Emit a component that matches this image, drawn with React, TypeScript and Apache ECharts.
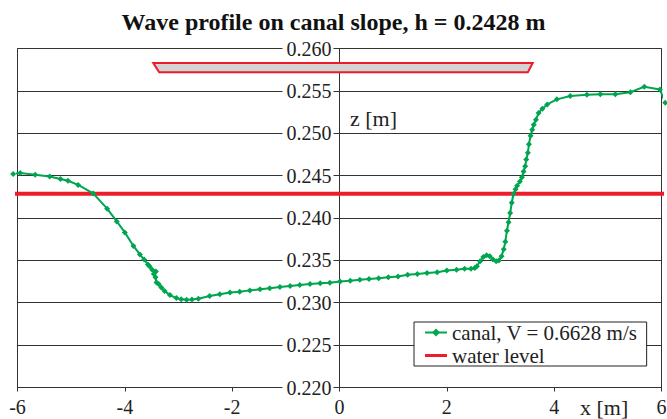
import React, { useEffect, useRef } from "react";
import * as echarts from "echarts";

const canalX = [
  -6.08, -5.95, -5.67, -5.40, -5.20, -5.06, -4.87, -4.59, -4.33, -4.15, -4.00, -3.84, -3.72, -3.64, -3.57,
  -3.54, -3.49, -3.42, -3.46, -3.43, -3.41, -3.37, -3.32, -3.26, -3.16, -3.04, -2.95, -2.85, -2.75, -2.63,
  -2.42, -2.23, -2.04, -1.86, -1.67, -1.48, -1.30, -1.11, -0.92, -0.74, -0.55, -0.36, -0.18, 0.01,
  0.20, 0.38, 0.55, 0.73, 0.91, 1.09, 1.27, 1.45, 1.63, 1.82, 2.00, 2.18, 2.33, 2.45, 2.52,
  2.56, 2.62, 2.68, 2.74, 2.80, 2.86, 2.92, 2.97, 3.02, 3.06, 3.09, 3.12, 3.15, 3.18, 3.21, 3.24,
  3.28, 3.31, 3.36, 3.40, 3.43, 3.46, 3.48, 3.51, 3.53, 3.56, 3.59, 3.62, 3.66, 3.71, 3.78, 3.87,
  4.05, 4.30, 4.61, 4.86, 5.14, 5.42, 5.68, 5.97, 6.07,
];
const canalZ = [
  0.2452, 0.2453, 0.2451, 0.2449, 0.2446, 0.2444, 0.2439, 0.2429, 0.2411, 0.2396, 0.2383, 0.2367, 0.2357, 0.2351, 0.2345,
  0.2343, 0.2339, 0.2337, 0.2334, 0.2330, 0.2324, 0.2322, 0.2318, 0.2314, 0.2309, 0.23055, 0.2304, 0.23035, 0.23038, 0.23048,
  0.23079, 0.2310, 0.2312, 0.2313, 0.23146, 0.2316, 0.2317, 0.23185, 0.23197, 0.2321, 0.2322, 0.2323, 0.23237, 0.2325,
  0.2326, 0.2327, 0.2328, 0.2329, 0.2330, 0.2331, 0.2333, 0.2334, 0.2335, 0.2336, 0.2338, 0.2339, 0.2340, 0.2340, 0.2341,
  0.2343, 0.2349, 0.2354, 0.2356, 0.2355, 0.2351, 0.2349, 0.2350, 0.2355, 0.2363, 0.2372, 0.2385, 0.2395, 0.2406, 0.2418, 0.2428,
  0.2434, 0.2438, 0.2443, 0.2448, 0.2455, 0.2461, 0.2469, 0.2477, 0.2487, 0.2497, 0.2504, 0.2510, 0.2516, 0.2524, 0.2529, 0.2534,
  0.2540, 0.2544, 0.25454, 0.2546, 0.2546, 0.25485, 0.25548, 0.25517, 0.2536,
];
const waterX = [-6.1, 6.1];
const waterZ = [0.24285, 0.24285];
const vesselTopX = [-3.47, 3.6];
const vesselBottomX = [-3.36, 3.51];
const vesselY = [0.2583, 0.2572];
const xTicks = { min: -6, max: 6, interval: 2 };
const yTicks = { min: 0.22, max: 0.26, interval: 0.005 };

const FONT = "Liberation Serif";
const GREEN = "#00a550";
const RED = "#ee1c2a";
const AXIS = "#333";

const GRID_LEFT = 17.5;
const GRID_RIGHT = 5.5;
const CHART_W = 667;

export default function App() {
  const ref = useRef<HTMLDivElement>(null);
  useEffect(() => {
    if (!ref.current) return;
    const chart = echarts.init(ref.current, undefined, { renderer: "svg" });
    const canalData = canalX.map((x, i) => [x, canalZ[i]]);
    const waterData = waterX.map((x, i) => [x, waterZ[i]]);
    const plotW = CHART_W - GRID_LEFT - GRID_RIGHT;
    const yAxisOffset = -((0 - xTicks.min) / (xTicks.max - xTicks.min)) * plotW;
    chart.setOption({
      animation: false,
      backgroundColor: "#fff",
      textStyle: { fontFamily: FONT },
      title: {
        text: "Wave profile on canal slope, h = 0.2428 m",
        left: "center",
        top: 5,
        textStyle: { fontFamily: FONT, fontSize: 24, fontWeight: "bold", color: "#111" },
      },
      grid: {
        left: GRID_LEFT,
        right: GRID_RIGHT,
        top: 48.5,
        bottom: 31.5,
        containLabel: false,
        outerBoundsMode: "none",
        show: true,
        borderColor: AXIS,
        borderWidth: 1,
        backgroundColor: "transparent",
      },
      legend: {
        orient: "vertical",
        left: 414,
        top: 322,
        data: [
          { name: "canal, V = 0.6628 m/s" },
          { name: "water level", icon: "path://M0 0H22V3H0Z" },
        ],
        padding: [0, 9, 0, 10],
        itemGap: 2,
        itemWidth: 22,
        itemHeight: 10,
        borderColor: "#222",
        borderWidth: 1,
        backgroundColor: "#fff",
        borderRadius: 0,
        textStyle: { fontFamily: FONT, fontSize: 21, color: "#222", lineHeight: 21 },
      },
      xAxis: {
        type: "value",
        min: xTicks.min,
        max: xTicks.max,
        interval: xTicks.interval,
        axisLine: { show: true, onZero: false, lineStyle: { color: AXIS, width: 1 } },
        axisTick: { show: true, length: 4, lineStyle: { color: AXIS } },
        axisLabel: { fontFamily: FONT, fontSize: 20, color: "#222", margin: 9 },
        splitLine: { show: false },
      },
      yAxis: {
        type: "value",
        min: yTicks.min,
        max: yTicks.max,
        interval: yTicks.interval,
        offset: yAxisOffset,
        axisLine: { show: true, onZero: false, lineStyle: { color: AXIS, width: 1 } },
        axisTick: { show: true, length: 6, lineStyle: { color: AXIS } },
        axisLabel: {
          fontFamily: FONT,
          fontSize: 20,
          color: "#222",
          margin: 6,
          backgroundColor: "#fff",
          padding: [0, 2, 0, 4],
          formatter: (v: number) => v.toFixed(3),
        },
        splitLine: { show: true, lineStyle: { color: AXIS, width: 1 } },
      },
      series: [
        {
          type: "custom",
          name: "vessel",
          coordinateSystem: "cartesian2d",
          clip: false,
          silent: true,
          data: [[0, vesselY[0]]],
          renderItem: (_params: any, api: any) => {
            const p1 = api.coord([vesselTopX[0], vesselY[0]]);
            const p2 = api.coord([vesselTopX[1], vesselY[0]]);
            const p3 = api.coord([vesselBottomX[1], vesselY[1]]);
            const p4 = api.coord([vesselBottomX[0], vesselY[1]]);
            return {
              type: "polygon",
              shape: { points: [p1, p2, p3, p4] },
              style: { fill: "#d3d3d3", stroke: RED, lineWidth: 2 },
            };
          },
        },
        {
          type: "line",
          name: "water level",
          data: waterData,
          symbol: "none",
          clip: false,
          lineStyle: { color: RED, width: 4 },
          itemStyle: { color: RED },
          z: 2,
        },
        {
          type: "line",
          name: "canal, V = 0.6628 m/s",
          data: canalData,
          symbol: "diamond",
          symbolSize: 6,
          showSymbol: true,
          clip: false,
          lineStyle: { color: GREEN, width: 2 },
          itemStyle: { color: GREEN },
          z: 3,
        },
      ],
      graphic: [
        {
          type: "text",
          left: 350,
          top: 107,
          style: { text: "z [m]", fontFamily: FONT, fontSize: 22, fill: "#222" },
        },
        {
          type: "text",
          left: 580,
          top: 396,
          style: { text: "x [m]", fontFamily: FONT, fontSize: 22, fill: "#222", backgroundColor: "#fff" },
        },
      ],
    });
    return () => chart.dispose();
  }, []);
  return (
    <div
      ref={ref}
      style={{ position: "fixed", left: 0, top: 0, width: CHART_W, height: 419, background: "#fff" }}
    />
  );
}
